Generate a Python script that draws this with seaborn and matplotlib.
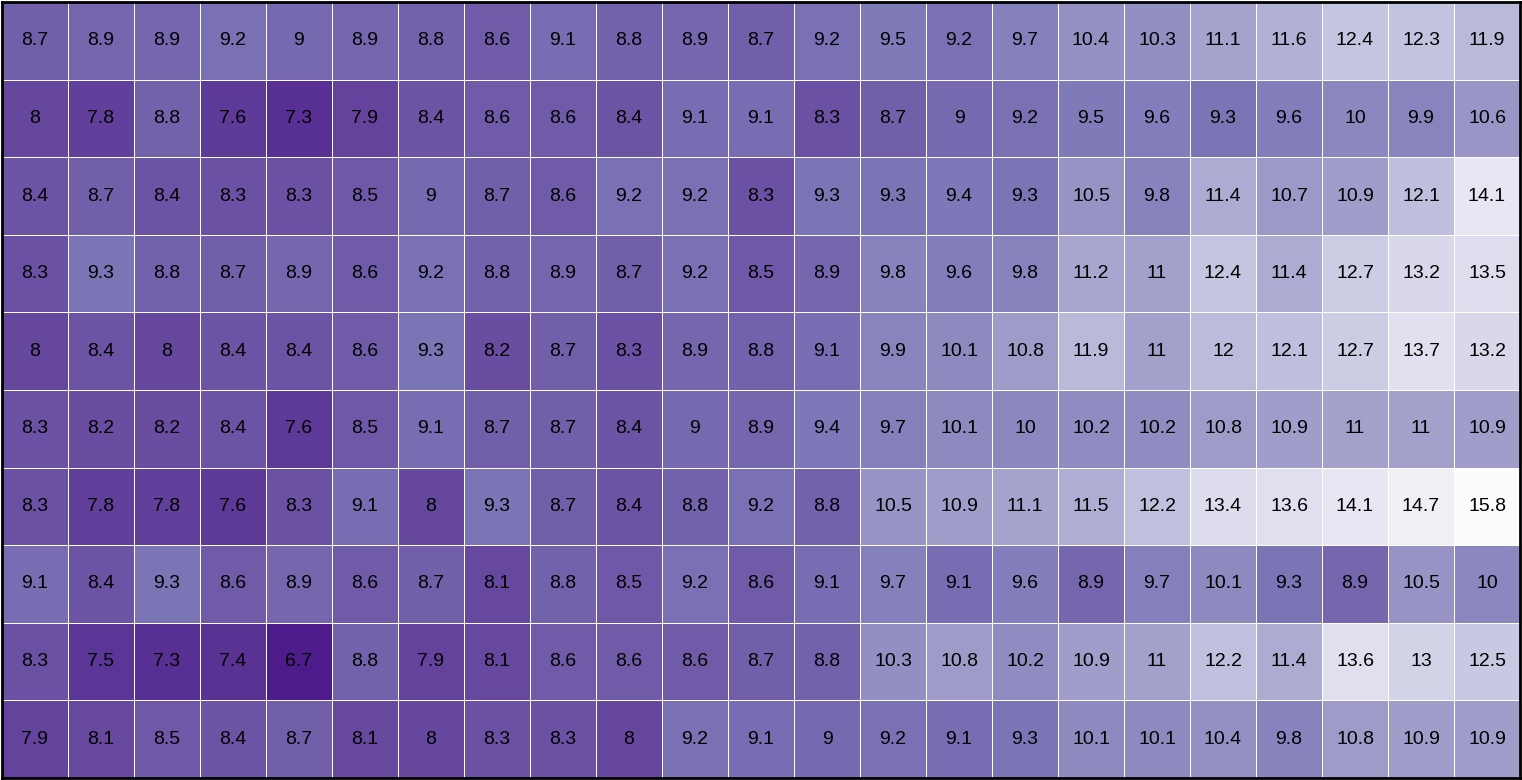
import numpy as np
import pandas as pd
import matplotlib
matplotlib.use("Agg")
import matplotlib.pyplot as plt
import seaborn as sns

row1 = [8.7, 8.9, 8.9, 9.2, 9, 8.9, 8.8, 8.6, 9.1, 8.8, 8.9, 8.7, 9.2, 9.5, 9.2, 9.7, 10.4, 10.3, 11.1, 11.6, 12.4, 12.3, 11.9]
row2 = [8, 7.8, 8.8, 7.6, 7.3, 7.9, 8.4, 8.6, 8.6, 8.4, 9.1, 9.1, 8.3, 8.7, 9, 9.2, 9.5, 9.6, 9.3, 9.6, 10, 9.9, 10.6]
row3 = [8.4, 8.7, 8.4, 8.3, 8.3, 8.5, 9, 8.7, 8.6, 9.2, 9.2, 8.3, 9.3, 9.3, 9.4, 9.3, 10.5, 9.8, 11.4, 10.7, 10.9, 12.1, 14.1]
row4 = [8.3, 9.3, 8.8, 8.7, 8.9, 8.6, 9.2, 8.8, 8.9, 8.7, 9.2, 8.5, 8.9, 9.8, 9.6, 9.8, 11.2, 11, 12.4, 11.4, 12.7, 13.2, 13.5]
row5 = [8, 8.4, 8, 8.4, 8.4, 8.6, 9.3, 8.2, 8.7, 8.3, 8.9, 8.8, 9.1, 9.9, 10.1, 10.8, 11.9, 11, 12, 12.1, 12.7, 13.7, 13.2]
row6 = [8.3, 8.2, 8.2, 8.4, 7.6, 8.5, 9.1, 8.7, 8.7, 8.4, 9, 8.9, 9.4, 9.7, 10.1, 10, 10.2, 10.2, 10.8, 10.9, 11, 11, 10.9]
row7 = [8.3, 7.8, 7.8, 7.6, 8.3, 9.1, 8, 9.3, 8.7, 8.4, 8.8, 9.2, 8.8, 10.5, 10.9, 11.1, 11.5, 12.2, 13.4, 13.6, 14.1, 14.7, 15.8]
row8 = [9.1, 8.4, 9.3, 8.6, 8.9, 8.6, 8.7, 8.1, 8.8, 8.5, 9.2, 8.6, 9.1, 9.7, 9.1, 9.6, 8.9, 9.7, 10.1, 9.3, 8.9, 10.5, 10]
row9 = [8.3, 7.5, 7.3, 7.4, 6.7, 8.8, 7.9, 8.1, 8.6, 8.6, 8.6, 8.7, 8.8, 10.3, 10.8, 10.2, 10.9, 11, 12.2, 11.4, 13.6, 13, 12.5]
row10 = [7.9, 8.1, 8.5, 8.4, 8.7, 8.1, 8, 8.3, 8.3, 8, 9.2, 9.1, 9, 9.2, 9.1, 9.3, 10.1, 10.1, 10.4, 9.8, 10.8, 10.9, 10.9]

df = pd.DataFrame([row1, row2, row3, row4, row5, row6, row7, row8, row9, row10])

fig = plt.figure(figsize=(15.22, 7.8), dpi=100)
ax = fig.add_axes([0.0013, 0.0026, 0.9974, 0.9948])

sns.heatmap(
    df,
    ax=ax,
    cmap="Purples_r",
    vmin=5.8,
    vmax=15.8,
    annot=True,
    fmt="g",
    cbar=False,
    linewidths=0.7,
    linecolor="white",
    annot_kws={"fontsize": 14, "color": "black", "family": "Liberation Sans"},
)

ax.set_xticks([])
ax.set_yticks([])
ax.set_xlabel("")
ax.set_ylabel("")
for s in ax.spines.values():
    s.set_visible(True)
    s.set_color("black")
    s.set_linewidth(2)

fig.savefig("out.png", dpi=100)
